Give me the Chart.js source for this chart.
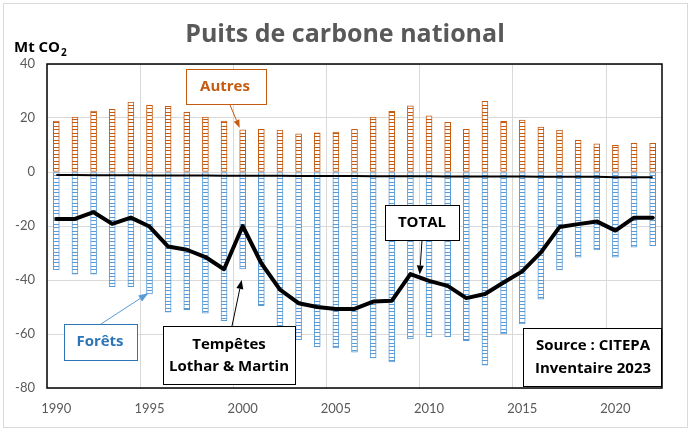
<!DOCTYPE html>
<html><head><meta charset="utf-8">
<script src="https://cdn.jsdelivr.net/npm/chart.js@4.4.0/dist/chart.umd.min.js"></script>
<style>html,body{margin:0;padding:0;background:#fff}#wrap{width:695px;height:437px}</style>
</head><body><div id="wrap"><canvas id="c" width="695" height="437"></canvas></div>
<script>
const years = ['1990','1991','1992','1993','1994','1995','1996','1997','1998','1999',
  '2000','2001','2002','2003','2004','2005','2006','2007','2008','2009',
  '2010','2011','2012','2013','2014','2015','2016','2017','2018','2019',
  '2020','2021','2022'];
const autres = [18.9,20.3,22.6,23.2,25.9,24.8,24.3,22.2,20.3,18.9,
  15.6,15.8,15.5,14.1,14.5,14.8,15.8,20.3,22.5,24.5,
  20.8,18.4,15.8,26.2,18.8,19.2,16.6,15.5,11.8,10.4,
  9.9,10.6,10.6];
const forets = [-36.2,-37.8,-37.8,-42.5,-42.5,-45.2,-51.9,-51.0,-52.3,-55.1,
  -35.9,-49.5,-59.3,-62.1,-64.8,-65.2,-66.7,-68.9,-70.3,-61.8,
  -61.0,-61.0,-62.5,-71.5,-60.0,-56.3,-47.1,-36.3,-31.5,-28.9,
  -31.5,-27.8,-27.3];
const total = [-17.4,-17.4,-14.9,-19.2,-16.9,-20.2,-27.6,-28.8,-31.5,-36.0,
  -20.0,-33.8,-43.6,-48.6,-50.0,-50.7,-50.7,-48.0,-47.7,-37.8,
  -40.3,-42.2,-46.7,-45.2,-40.9,-36.8,-29.8,-20.4,-19.3,-18.3,
  -21.7,-16.9,-16.9];
const autresNeg = [-1.1,-1.1,-1.2,-1.2,-1.2,-1.3,-1.3,-1.3,-1.3,-1.4,
  -1.4,-1.4,-1.4,-1.5,-1.5,-1.5,-1.5,-1.6,-1.6,-1.6,
  -1.6,-1.7,-1.7,-1.7,-1.7,-1.7,-1.8,-1.8,-1.8,-1.8,
  -1.9,-1.9,-1.9];
const yMin = -80, yMax = 40, yStep = 20;

const canvas = document.getElementById('c');
const ctx0 = canvas.getContext('2d');
function ladder(color){
  const c = document.createElement('canvas'); c.width = 1; c.height = 7;
  const g = c.getContext('2d');
  g.fillStyle = '#fff'; g.fillRect(0,0,1,7);
  g.fillStyle = color; g.fillRect(0,0,1,1); g.fillRect(0,3,1,1);
  return ctx0.createPattern(c,'repeat');
}
const ORANGE = '#C55A11', BLUE = '#5B9BD5', FONT = 'Lato', BFONT = '"Open Sans"';

function arrow(ctx,x1,y1,x2,y2,color,lw,hl,hw){
  const a = Math.atan2(y2-y1,x2-x1);
  const bx = x2 - hl*Math.cos(a), by = y2 - hl*Math.sin(a);
  ctx.save();
  ctx.strokeStyle = color; ctx.fillStyle = color; ctx.lineWidth = lw;
  ctx.beginPath(); ctx.moveTo(x1,y1); ctx.lineTo(bx,by); ctx.stroke();
  ctx.beginPath(); ctx.moveTo(x2,y2);
  ctx.lineTo(bx + hw/2*Math.sin(a), by - hw/2*Math.cos(a));
  ctx.lineTo(bx - hw/2*Math.sin(a), by + hw/2*Math.cos(a));
  ctx.closePath(); ctx.fill();
  ctx.restore();
}
function box(ctx,x,y,w,h,stroke,lines,color,cx,ys){
  ctx.save();
  ctx.fillStyle = '#fff'; ctx.fillRect(x,y,w,h);
  ctx.strokeStyle = stroke; ctx.lineWidth = 1;
  ctx.strokeRect(x+0.5,y+0.5,w,h);
  ctx.fillStyle = color; ctx.font = 'bold 15px ' + BFONT;
  ctx.textAlign = 'center'; ctx.textBaseline = 'middle';
  lines.forEach((t,i)=>ctx.fillText(t,cx,ys[i]));
  ctx.restore();
}

const deco = {
  id:'deco',
  beforeDraw(chart){
    const ctx = chart.ctx;
    ctx.save();
    ctx.fillStyle = '#fff'; ctx.fillRect(0,0,chart.width,chart.height);
    ctx.strokeStyle = '#d9d9d9'; ctx.lineWidth = 1;
    ctx.strokeRect(3.5,3.5,684,424);
    ctx.restore();
  },
  afterDraw(chart){
    const ctx = chart.ctx, a = chart.chartArea;
    const xs = chart.scales.x, ys = chart.scales.y;
    ctx.save();
    ctx.strokeStyle = '#000'; ctx.lineWidth = 1.5;
    ctx.strokeRect(a.left, a.top, a.right-a.left, a.bottom-a.top);
    ctx.fillStyle = '#595959'; ctx.font = 'bold 25px ' + BFONT;
    ctx.textAlign = 'center'; ctx.textBaseline = 'middle';
    ctx.fillText('Puits de carbone national', 345, 35);
    ctx.fillStyle = '#000'; ctx.font = 'bold 15px ' + BFONT;
    ctx.textAlign = 'left'; ctx.textBaseline = 'alphabetic';
    ctx.fillText('Mt CO', 14, 52);
    const w = ctx.measureText('Mt CO').width;
    ctx.font = 'bold 10px ' + BFONT;
    ctx.fillText('2', 14 + w + 1, 56);
    ctx.restore();

    const i2000 = years.indexOf('2000'), i1995 = years.indexOf('1995');
    const i2009 = years.indexOf('2009'), i2010 = years.indexOf('2010');
    box(ctx,186,69,80,35,ORANGE,['Autres'],ORANGE,225,[87]);
    arrow(ctx,230,105,xs.getPixelForValue(i2000)-3,ys.getPixelForValue(autres[i2000])-2,ORANGE,1,8,6);
    box(ctx,64,324,73,36,'#2E75B6',['Forêts'],'#2E75B6',100,[342]);
    arrow(ctx,101,324,xs.getPixelForValue(i1995)-1,ys.getPixelForValue(forets[i1995])-1,BLUE,1,10,7);
    box(ctx,163,326,132,58,'#000',['Tempêtes','Lothar & Martin'],'#000',229,[345,367]);
    arrow(ctx,232,326,xs.getPixelForValue(i2000)-1,ys.getPixelForValue(forets[i2000])+11,'#000',1,9,7);
    box(ctx,385,205,74,35,'#000',['TOTAL'],'#000',422,[223]);
    const tx = (xs.getPixelForValue(i2009)+xs.getPixelForValue(i2010))/2;
    const ty = ys.getPixelForValue((total[i2009]+total[i2010])/2) - 3;
    arrow(ctx,422,240,tx,ty,'#000',1,9,7);
    box(ctx,523,328,138,58,'#000',['Source : CITEPA','Inventaire 2023'],'#000',593,[346,369]);
  }
};

new Chart(canvas, {
  data: {
    labels: years,
    datasets: [
      {type:'line', data: total, borderColor:'#000', borderWidth:4, pointRadius:0,
       tension:0, borderJoinStyle:'round', borderCapStyle:'round', order:0},
      {type:'line', data: autresNeg, borderColor:'#000', borderWidth:2, pointRadius:0,
       tension:0, order:1},
      {type:'bar', data: autres, backgroundColor: ladder(ORANGE), borderColor: ORANGE,
       borderWidth:1, borderSkipped:false, barThickness:6, grouped:false, order:2},
      {type:'bar', data: forets, backgroundColor: ladder(BLUE), borderColor: BLUE,
       borderWidth:1, borderSkipped:false, barThickness:6, grouped:false, order:3}
    ]
  },
  options: {
    responsive:false, animation:false, devicePixelRatio:1,
    layout:{padding:{top:64,right:33,left:0,bottom:0}},
    plugins:{legend:{display:false}, tooltip:{enabled:false}, title:{display:false}},
    scales:{
      x:{type:'category', offset:true,
        grid:{offset:true, drawTicks:false,
          color: c => (c.index!==undefined && c.index>0 && c.index%5===0) ? '#d9d9d9' : 'rgba(0,0,0,0)'},
        border:{display:false},
        ticks:{autoSkip:false, maxRotation:0, minRotation:0, padding:13, color:'#595959',
          font:{family:FONT,size:13}, callback:(v,i)=> i%5===0 ? years[i] : ''},
        afterFit: s => { s.height = 49; }
      },
      y:{min:yMin, max:yMax,
        grid:{color:'#d9d9d9', drawTicks:false},
        border:{display:false},
        ticks:{stepSize:yStep, padding:12, color:'#595959', font:{family:FONT,size:13}},
        afterFit: s => { s.width = 47; }
      }
    }
  },
  plugins:[deco]
});
</script>
</body></html>
